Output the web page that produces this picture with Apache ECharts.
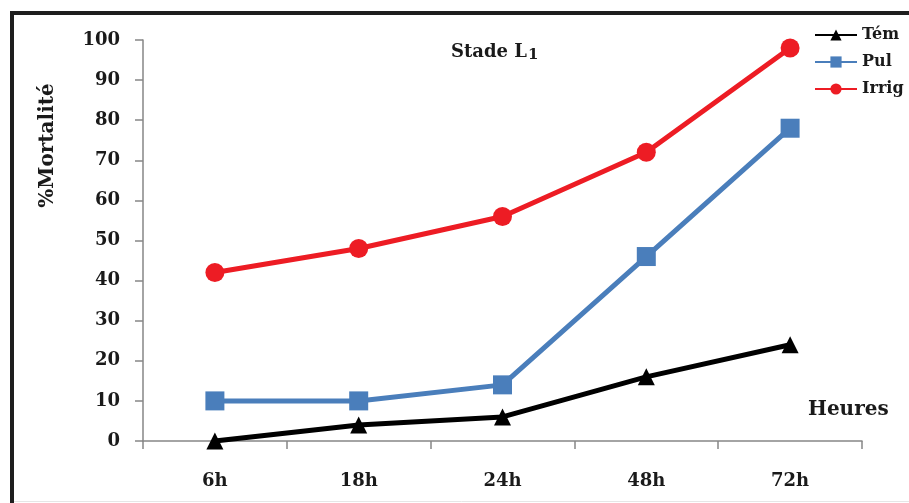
<!DOCTYPE html>
<html>
<head>
<meta charset="utf-8">
<style>
  html, body { margin: 0; padding: 0; background: #fff; }
  #chart { width: 909px; height: 503px; }
</style>
<script src="https://cdn.jsdelivr.net/npm/echarts@6/dist/echarts.min.js"></script>
</head>
<body>
<div id="chart"></div>
<script>
// Mortality (%) over time after treatment, stage L1
const categories = ['6h', '18h', '24h', '48h', '72h'];
const yTicks = [0, 10, 20, 30, 40, 50, 60, 70, 80, 90, 100];
const temoin = [0, 4, 6, 16, 24];
const pulverisation = [10, 10, 14, 46, 78];
const irrigation = [42, 48, 56, 72, 98];

const serif = '"DejaVu Serif", "Liberation Serif", serif';
const textColor = '#1a1a1a';

const chart = echarts.init(document.getElementById('chart'), null, { renderer: 'canvas' });

chart.setOption({
  animation: false,
  backgroundColor: '#ffffff',
  grid: { left: 143, right: 47, top: 40, bottom: 62 },
  title: {
    text: 'Stade L{sub|1}',
    left: 451,
    top: 41,
    padding: 0,
    textStyle: {
      fontFamily: serif,
      fontSize: 18,
      fontWeight: 'bold',
      color: textColor,
      rich: {
        sub: { fontFamily: serif, fontSize: 15, fontWeight: 'bold', color: textColor, verticalAlign: 'bottom', padding: [7, 0, 0, 1] }
      }
    }
  },
  legend: {
    orient: 'vertical',
    left: 814,
    top: 27,
    padding: 0,
    itemWidth: 42,
    itemHeight: 14,
    itemGap: 11,
    textStyle: { fontFamily: serif, fontSize: 16, fontWeight: 'bold', color: textColor, padding: [0, 0, 0, 0] },
    data: ['Tém', 'Pul', 'Irrig']
  },
  xAxis: {
    type: 'category',
    data: categories,
    boundaryGap: true,
    axisLine: { lineStyle: { color: '#868686', width: 1.5 } },
    axisTick: { show: true, length: 8, alignWithLabel: false, lineStyle: { color: '#868686', width: 1.5 } },
    axisLabel: { fontFamily: serif, fontSize: 18, fontWeight: 'bold', color: textColor, margin: 31 },
    splitLine: { show: false }
  },
  yAxis: {
    type: 'value',
    min: yTicks[0],
    max: yTicks[yTicks.length - 1],
    interval: yTicks[1] - yTicks[0],
    name: '%Mortalité',
    nameLocation: 'middle',
    nameRotate: 90,
    nameGap: 85,
    nameTextStyle: { fontFamily: serif, fontSize: 20, fontWeight: 'bold', color: textColor, padding: [0, 0, 0, 190] },
    axisLine: { show: true, lineStyle: { color: '#868686', width: 1.5 } },
    axisTick: { show: true, length: 8, lineStyle: { color: '#868686', width: 1.5 } },
    axisLabel: { fontFamily: serif, fontSize: 18, fontWeight: 'bold', color: textColor, margin: 23 },
    splitLine: { show: false }
  },
  series: [
    {
      name: 'Tém',
      type: 'line',
      data: temoin,
      symbol: 'triangle',
      symbolSize: 17,
      lineStyle: { color: '#000000', width: 5 },
      itemStyle: { color: '#000000' },
      z: 3
    },
    {
      name: 'Pul',
      type: 'line',
      data: pulverisation,
      symbol: 'rect',
      symbolSize: 19,
      lineStyle: { color: '#4a7ebb', width: 5 },
      itemStyle: { color: '#4a7ebb' },
      z: 2
    },
    {
      name: 'Irrig',
      type: 'line',
      data: irrigation,
      symbol: 'circle',
      symbolSize: 19,
      lineStyle: { color: '#ed1c24', width: 5 },
      itemStyle: { color: '#ed1c24' },
      z: 2
    }
  ],
  graphic: [
    {
      type: 'text',
      left: 808,
      top: 400,
      style: { text: 'Heures', font: 'bold 20px ' + serif, fill: textColor }
    },
    {
      type: 'polyline',
      shape: { points: [[12, 503], [12, 13], [909, 13]] },
      style: { stroke: '#1e1e1e', lineWidth: 4, fill: null }
    },
    {
      type: 'line',
      shape: { x1: 14, y1: 501.5, x2: 909, y2: 501.5 },
      style: { stroke: '#e6e6e6', lineWidth: 1 }
    }
  ]
});
</script>
</body>
</html>
